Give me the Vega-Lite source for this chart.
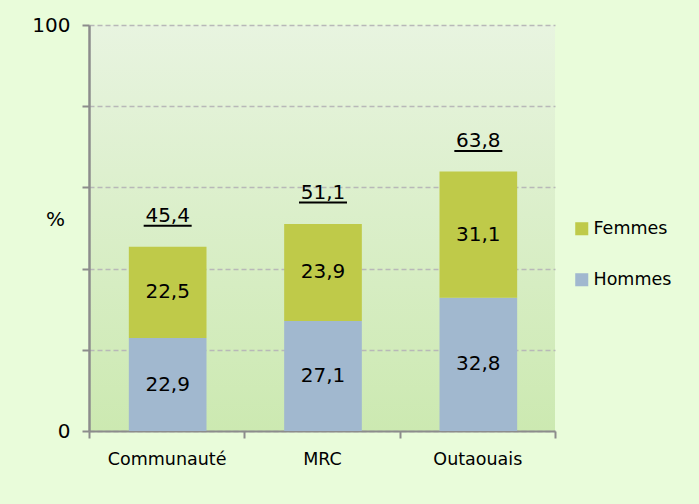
{
  "$schema": "https://vega.github.io/schema/vega-lite/v6.json",
  "width": 466,
  "height": 406,
  "autosize": {"type": "none"},
  "padding": {"left": 89, "top": 25, "right": 144, "bottom": 73},
  "background": "#e9fcda",
  "config": {
    "font": "DejaVu Sans",
    "locale": {"number": {"decimal": ",", "thousands": " ", "grouping": [3], "currency": ["", " $"]}},
    "view": {"stroke": null, "fill": {"gradient": "linear", "x1": 0, "y1": 0, "x2": 0, "y2": 1, "stops": [{"offset": 0, "color": "#e8f4e0"}, {"offset": 1, "color": "#cce9b1"}]}}
  },
  "datasets": {
    "parts": [
      {"zone": "Communauté", "sexe": "Hommes", "ordre": 1, "valeur": 22.9},
      {"zone": "Communauté", "sexe": "Femmes", "ordre": 2, "valeur": 22.5},
      {"zone": "MRC", "sexe": "Hommes", "ordre": 1, "valeur": 27.1},
      {"zone": "MRC", "sexe": "Femmes", "ordre": 2, "valeur": 23.9},
      {"zone": "Outaouais", "sexe": "Hommes", "ordre": 1, "valeur": 32.8},
      {"zone": "Outaouais", "sexe": "Femmes", "ordre": 2, "valeur": 31.1}
    ],
    "totals": [
      {"zone": "Communauté", "total": 45.4},
      {"zone": "MRC", "total": 51.1},
      {"zone": "Outaouais", "total": 63.8}
    ]
  },
  "encoding": {
    "x": {
      "field": "zone", "type": "nominal", "sort": null,
      "scale": {"paddingInner": 0, "paddingOuter": 0},
      "axis": {
        "title": null, "labelAngle": 0, "labelFontSize": 17.5, "labelColor": "#000000",
        "domainColor": "#8c8c8c", "domainWidth": 2, "tickColor": "#8c8c8c", "tickWidth": 2,
        "tickSize": 7, "tickBand": "extent", "labelPadding": 12
      }
    }
  },
  "layer": [
    {
      "data": {"name": "parts"},
      "mark": {"type": "bar", "width": {"band": 0.5}, "xOffset": 1},
      "encoding": {
        "y": {
          "field": "valeur", "type": "quantitative", "stack": "zero",
          "scale": {"domain": [0, 100], "nice": false},
          "axis": {
            "values": [0, 20, 40, 60, 80, 100],
            "labelExpr": "datum.value == 0 || datum.value == 100 ? datum.label : ''",
            "labelFontSize": 20, "labelColor": "#000000", "labelPadding": 12,
            "domainColor": "#8c8c8c", "domainWidth": 2.5, "tickColor": "#8c8c8c", "tickWidth": 2, "tickSize": 7,
            "grid": true, "gridColor": "#b8b8b8", "gridDash": [5, 3], "gridWidth": 1.5,
            "title": "%", "titleAngle": 0, "titleX": -34, "titleY": 194, "titleFontSize": 20,
            "titleFontWeight": "normal", "titleAlign": "center", "titleBaseline": "middle"
          }
        },
        "color": {
          "field": "sexe", "type": "nominal",
          "scale": {"domain": ["Femmes", "Hommes"], "range": ["#bfca49", "#a1b8cf"]},
          "legend": {
            "orient": "none", "legendX": 484, "legendY": 195, "title": null,
            "symbolType": "square", "symbolSize": 170, "symbolStrokeWidth": 0,
            "labelFontSize": 17.5, "labelColor": "#000000", "rowPadding": 32, "labelOffset": 3
          }
        },
        "order": {"field": "ordre", "type": "quantitative"}
      }
    },
    {
      "data": {"name": "parts"},
      "mark": {"type": "text", "fontSize": 20, "color": "#000000", "xOffset": 1},
      "encoding": {
        "y": {"field": "valeur", "type": "quantitative", "stack": "zero", "bandPosition": 0.5},
        "text": {"field": "valeur", "type": "quantitative", "format": ".1f"},
        "order": {"field": "ordre", "type": "quantitative"}
      }
    },
    {
      "data": {"name": "totals"},
      "mark": {"type": "text", "fontSize": 20, "color": "#000000", "baseline": "alphabetic", "dy": -25, "xOffset": 1},
      "encoding": {
        "y": {"field": "total", "type": "quantitative"},
        "text": {"field": "total", "type": "quantitative", "format": ".1f"}
      }
    },
    {
      "data": {"name": "totals"},
      "mark": {"type": "tick", "size": 48, "thickness": 2, "color": "#000000", "opacity": 1, "yOffset": -21, "xOffset": 1},
      "encoding": {
        "y": {"field": "total", "type": "quantitative"}
      }
    }
  ]
}
